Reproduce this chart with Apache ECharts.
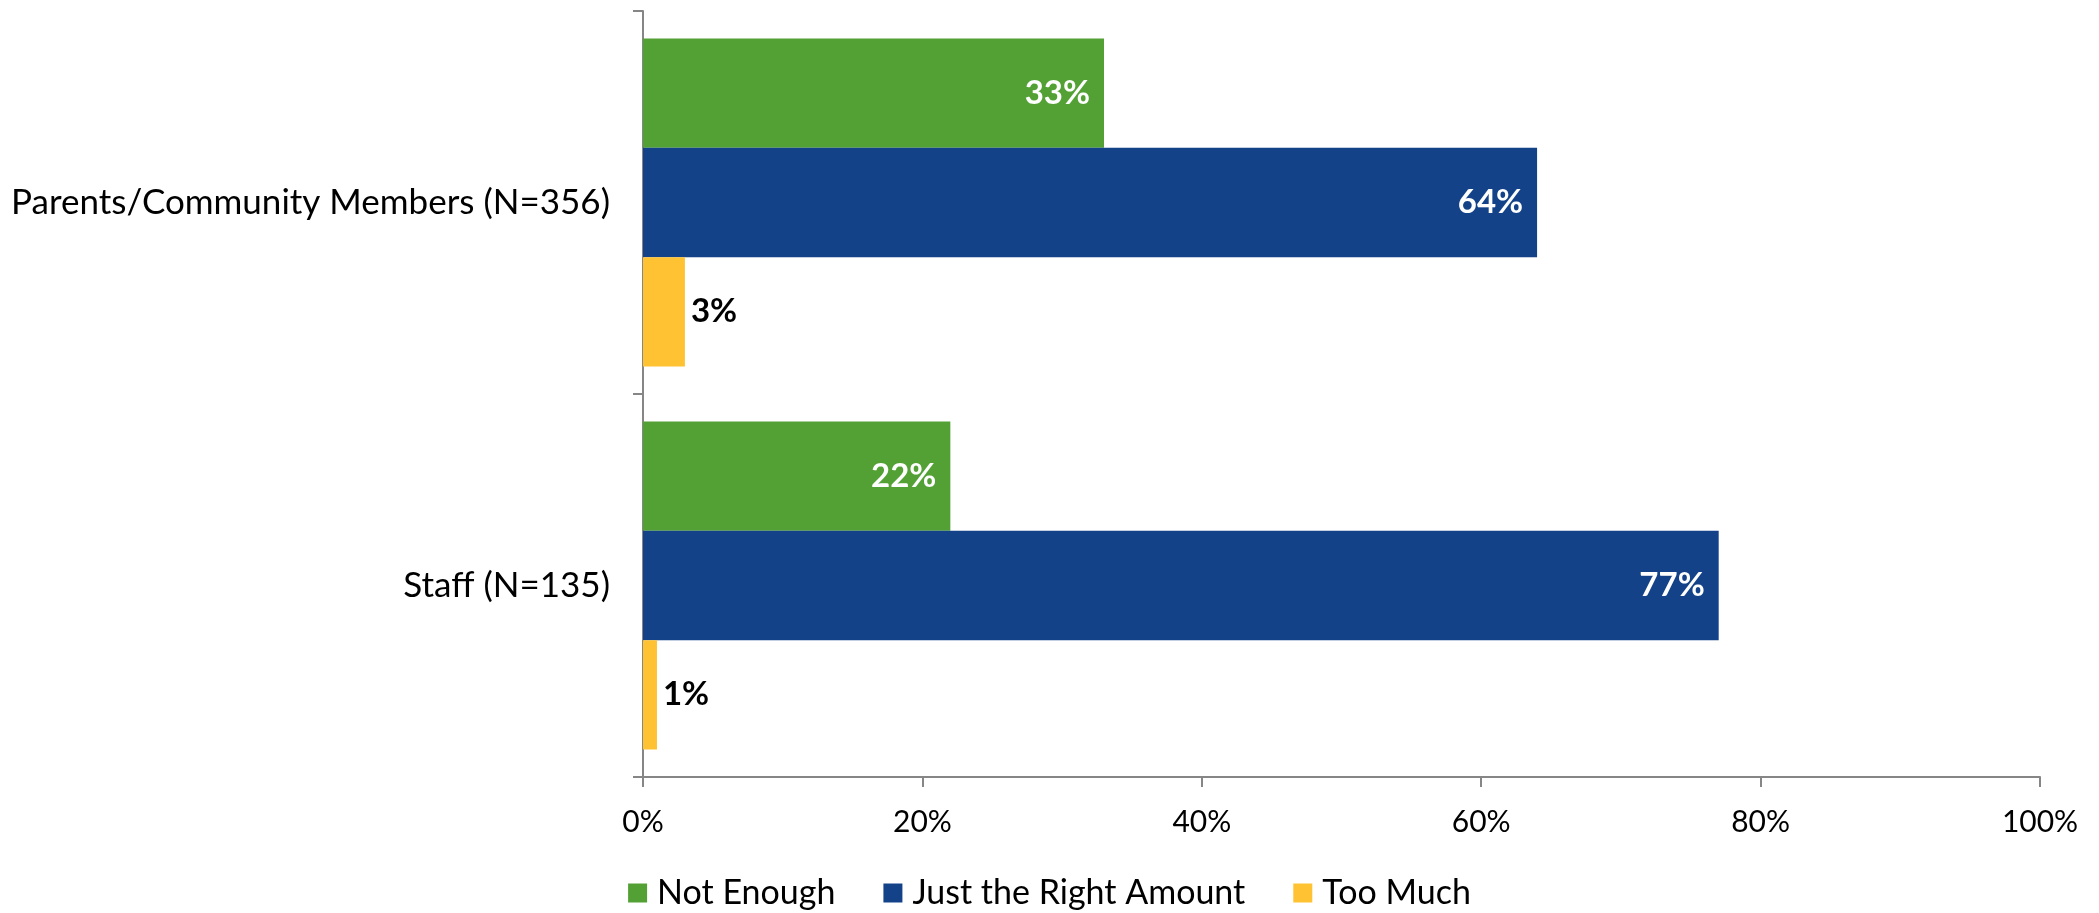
<!DOCTYPE html>
<html><head><meta charset="utf-8">
<script src="https://cdn.jsdelivr.net/npm/echarts@6/dist/echarts.min.js"></script>
<style>html,body{margin:0;padding:0;background:#fff}#c{width:2099px;height:913px}</style>
</head><body><div id="c"></div>
<script>
const categories = ['Parents/Community Members (N=356)', 'Staff (N=135)'];
const notEnough = [33, 22];
const justRight = [64, 77];
const tooMuch = [3, 1];
const seriesNames = ['Not Enough', 'Just the Right Amount', 'Too Much'];
const xTicks = [0, 20, 40, 60, 80, 100];
const colors = ['#53A035', '#134288', '#FFC233'];
const FONT = 'Lato';

const chart = echarts.init(document.getElementById('c'));
function mk(name, data, color, inside) {
  return {
    name, type: 'bar', data, barGap: '0%', barCategoryGap: '14.4%',
    itemStyle: { color },
    label: {
      show: true, position: inside ? 'insideRight' : 'right', distance: inside ? 14 : 6,
      formatter: p => p.value + '%', color: inside ? '#fff' : '#000',
      fontWeight: 'bold', fontSize: 33, fontFamily: FONT
    }
  };
}
chart.setOption({
  animation: false,
  color: colors,
  grid: { left: 643, right: 59, top: 11, bottom: 136, containLabel: false },
  legend: {
    top: 871, left: 'center', itemWidth: 19, itemHeight: 19, itemGap: 48,
    icon: 'rect', textStyle: { fontSize: 34, fontFamily: FONT, color: '#000', padding: [0, 0, 0, 5] },
    data: seriesNames
  },
  xAxis: {
    type: 'value', min: 0, max: 100, interval: 20,
    axisLine: { show: true, lineStyle: { color: '#868686', width: 2 } },
    axisTick: { show: true, length: 10, lineStyle: { color: '#868686', width: 2 } },
    splitLine: { show: false },
    axisLabel: { fontSize: 30, fontFamily: FONT, color: '#000', margin: 30,
      formatter: v => xTicks.includes(v) ? v + '%' : '' }
  },
  yAxis: {
    type: 'category', data: categories, inverse: true,
    axisLine: { show: true, lineStyle: { color: '#868686', width: 2 } },
    axisTick: { show: true, length: 10, lineStyle: { color: '#868686', width: 2 } },
    axisLabel: { fontSize: 35, fontFamily: FONT, color: '#000', margin: 33 }
  },
  series: [
    mk(seriesNames[0], notEnough, colors[0], true),
    mk(seriesNames[1], justRight, colors[1], true),
    mk(seriesNames[2], tooMuch, colors[2], false)
  ]
});
</script></body></html>
